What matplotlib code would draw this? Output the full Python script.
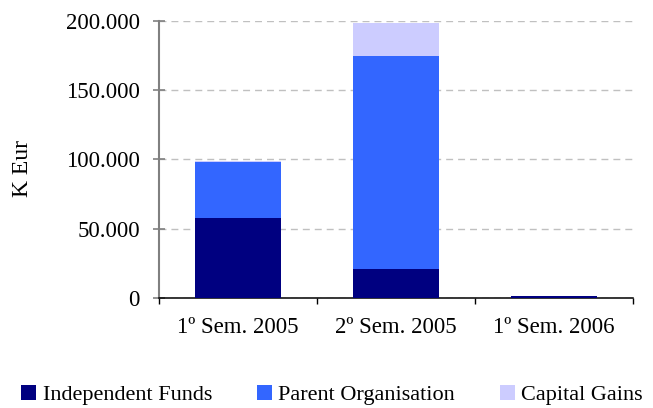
import matplotlib
matplotlib.use("Agg")
import matplotlib.pyplot as plt
from matplotlib.ticker import FuncFormatter, FixedLocator
from matplotlib.patches import Patch

categories = ["1º Sem. 2005", "2º Sem. 2005", "1º Sem. 2006"]
independent_funds = [58000, 21000, 1200]
parent_organisation = [40000, 154000, 0]
capital_gains = [1200, 23800, 0]
series_names = ["Independent Funds", "Parent Organisation", "Capital Gains"]
colors = ["#000080", "#3366FF", "#CCCCFF"]

plt.rcParams['font.family'] = ['Liberation Serif', 'DejaVu Serif']

fig = plt.figure(figsize=(6.53, 4.08), dpi=100)
ax = fig.add_axes([159/653, 1 - 298/408, 474/653, 277/408])

x = list(range(len(categories)))
w = 0.54
ax.bar(x, independent_funds, w, color=colors[0], zorder=3)
ax.bar(x, parent_organisation, w, bottom=independent_funds, color=colors[1], zorder=3)
bottom2 = [a + b for a, b in zip(independent_funds, parent_organisation)]
ax.bar(x, capital_gains, w, bottom=bottom2, color=colors[2], zorder=3)

ax.set_xlim(-0.5, 2.5)
ax.set_ylim(0, 200000)
ax.set_yticks([0, 50000, 100000, 150000, 200000])
ax.yaxis.set_major_formatter(FuncFormatter(lambda v, p: f"{int(v):,}".replace(",", ".")))
ax.set_xticks(x)
ax.set_xticklabels(categories)
ax.tick_params(axis='x', which='major', length=0, pad=14, labelsize=16.5)
ax.xaxis.set_minor_locator(FixedLocator([-0.5, 0.5, 1.5, 2.5]))
ax.tick_params(axis='x', which='minor', length=4.3, width=1.0, color='black')
ax.tick_params(axis='y', direction='inout', length=8.6, width=1.2, labelsize=16.5,
               color='#808080', pad=9.4)
ax.yaxis.grid(True, linestyle=(0, (5, 3.6)), color='#C0C0C0', linewidth=1, zorder=0)
ax.set_ylabel("K Eur", fontsize=17)
ax.yaxis.set_label_coords((33 - 159) / 474, (298 - 169) / 277)

for s in ['top', 'right']:
    ax.spines[s].set_visible(False)
ax.spines['left'].set_color('#808080')
ax.spines['left'].set_linewidth(1.5)
ax.spines['bottom'].set_color('black')
ax.spines['bottom'].set_linewidth(1.1)

handles = [Patch(facecolor=c, edgecolor='none') for c in colors]
fig.legend(handles, series_names, loc='center left', bbox_to_anchor=(21/653, 1 - 395/408),
           ncol=3, frameon=False, fontsize=16, handlelength=0.68, handleheight=0.7,
           handletextpad=0.3, columnspacing=2.0, borderpad=0, borderaxespad=0)

fig.savefig("out.png", dpi=100)
